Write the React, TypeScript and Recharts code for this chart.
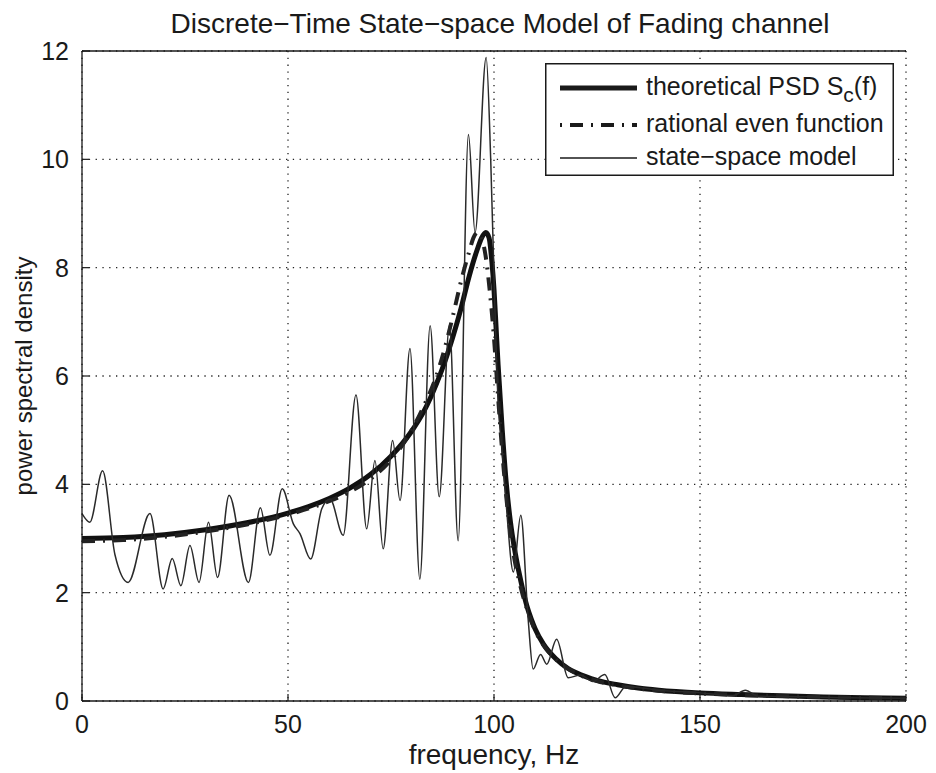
import React from 'react';
import { LineChart, Line, XAxis, YAxis, CartesianGrid, Legend } from 'recharts';

const TITLE = 'Discrete\u2212Time State\u2212space Model of Fading channel';
const X_LABEL = 'frequency, Hz';
const Y_LABEL = 'power spectral density';
const FREQ_TICKS = [0, 50, 100, 150, 200];
const PSD_TICKS = [0, 2, 4, 6, 8, 10, 12];

const theoreticalFreq = [0, 10, 20, 30, 40, 50, 55, 60, 65, 70, 75, 80, 83, 86, 88, 90, 92, 94, 96, 97, 98, 98.8, 99.5, 100, 100.5, 101, 102, 103, 104, 105, 106, 107, 108, 109, 110, 112, 115, 118, 120, 125, 130, 135, 140, 150, 160, 170, 180, 190, 200];
const theoreticalPsd = [3.0, 3.02, 3.07, 3.16, 3.29, 3.47, 3.59, 3.74, 3.93, 4.18, 4.52, 4.98, 5.35, 5.85, 6.25, 6.72, 7.25, 7.85, 8.35, 8.55, 8.65, 8.55, 8.1, 7.6, 6.9, 6.2, 5.0, 4.0, 3.3, 2.8, 2.4, 2.05, 1.75, 1.52, 1.33, 1.05, 0.78, 0.6, 0.52, 0.38, 0.3, 0.24, 0.2, 0.15, 0.12, 0.095, 0.075, 0.06, 0.05];

const rationalFreq = [0, 10, 20, 30, 40, 50, 60, 65, 70, 75, 80, 83, 86, 88, 90, 92, 94, 95, 96, 97, 98, 99, 100, 101, 102, 103, 104, 105, 106, 107, 108, 110, 112, 115, 120, 125, 130, 140, 150, 170, 200];
const rationalPsd = [2.95, 2.97, 3.03, 3.13, 3.26, 3.44, 3.69, 3.86, 4.1, 4.45, 5.0, 5.45, 6.0, 6.5, 7.1, 7.75, 8.3, 8.55, 8.65, 8.55, 8.2, 7.55, 6.7, 5.6, 4.6, 3.75, 3.1, 2.6, 2.25, 1.95, 1.7, 1.3, 1.03, 0.77, 0.51, 0.37, 0.29, 0.19, 0.14, 0.09, 0.05];

const stateSpaceFreq = [0, 1.9, 5.0, 8.0, 11.2, 16.5, 19.7, 21.9, 24.0, 26.2, 28.4, 30.7, 32.9, 35.7, 40.4, 43.3, 45.6, 48.6, 51.3, 52.9, 55.5, 58.2, 60.2, 63.4, 66.5, 69.1, 71.1, 73.1, 75.4, 77.2, 79.6, 82.0, 84.5, 86.7, 89.2, 91.3, 93.8, 95.4, 98.1, 99.2, 100.2, 101.0, 101.9, 103.0, 104.7, 106.5, 108.3, 109.5, 111.3, 112.8, 115.2, 118, 121, 124, 126.9, 129.4, 132, 140, 150, 158, 161, 164, 175, 185, 200];
const stateSpacePsd = [3.46, 3.3, 4.25, 2.7, 2.19, 3.46, 2.07, 2.63, 2.13, 2.87, 2.19, 3.3, 2.28, 3.8, 2.19, 3.57, 2.69, 3.92, 3.27, 3.09, 2.62, 3.55, 3.73, 3.06, 5.65, 3.18, 4.44, 2.81, 4.81, 3.7, 6.51, 2.25, 6.93, 3.77, 6.94, 2.96, 10.46, 8.65, 11.88, 10.0, 7.3, 5.5, 4.7, 3.6, 2.38, 3.43, 1.5, 0.59, 0.86, 0.68, 1.14, 0.43, 0.48, 0.36, 0.49, 0.06, 0.27, 0.2, 0.15, 0.1, 0.2, 0.09, 0.08, 0.06, 0.05];

const LEGEND_LABELS = ['theoretical PSD S', 'rational even function', 'state\u2212space model'];

const zip = (f: number[], p: number[]) => f.map((x, i) => ({ f: x, psd: p[i] }));
const theoreticalData = zip(theoreticalFreq, theoreticalPsd);
const rationalData = zip(rationalFreq, rationalPsd);
const stateSpaceData = zip(stateSpaceFreq, stateSpacePsd);

const FONT = '"Liberation Sans", Arial, Helvetica, sans-serif';
const INK = '#1a1a1a';
const TICK_FS = 25;
const TICK_LEN = 7;

const BottomTick = (props: any) => {
  const { x, y, payload } = props;
  return (
    <g>
      <line x1={x} y1={y} x2={x} y2={y - TICK_LEN} stroke={INK} strokeWidth={1.2} />
      <text x={x} y={y + 32} textAnchor="middle" fontFamily={FONT} fontSize={TICK_FS} fill={INK}>
        {payload.value}
      </text>
    </g>
  );
};
const TopTick = (props: any) => {
  const { x, y } = props;
  return <line x1={x} y1={y} x2={x} y2={y + TICK_LEN} stroke={INK} strokeWidth={1.2} />;
};
const LeftTick = (props: any) => {
  const { x, y, payload } = props;
  return (
    <g>
      <line x1={x} y1={y} x2={x + TICK_LEN} y2={y} stroke={INK} strokeWidth={1.2} />
      <text x={x - 13} y={y + 9} textAnchor="end" fontFamily={FONT} fontSize={TICK_FS} fill={INK}>
        {payload.value}
      </text>
    </g>
  );
};
const RightTick = (props: any) => {
  const { x, y } = props;
  return <line x1={x} y1={y} x2={x - TICK_LEN} y2={y} stroke={INK} strokeWidth={1.2} />;
};

const TitleLabel = (props: any) => {
  const { viewBox } = props;
  const cx = viewBox.x + viewBox.width / 2 + 6;
  return (
    <text x={cx} y={viewBox.y + 25} textAnchor="middle" fontFamily={FONT} fontSize={28} fill={INK}>
      {TITLE}
    </text>
  );
};
const XLabel = (props: any) => {
  const { viewBox } = props;
  const cx = viewBox.x + viewBox.width / 2;
  return (
    <text x={cx} y={viewBox.y + 63} textAnchor="middle" fontFamily={FONT} fontSize={28} fill={INK}>
      {X_LABEL}
    </text>
  );
};
const YLabel = (props: any) => {
  const { viewBox } = props;
  const cx = viewBox.x + 24;
  const cy = viewBox.y + viewBox.height / 2;
  return (
    <text x={cx} y={cy} transform={`rotate(-90 ${cx} ${cy})`} textAnchor="middle" fontFamily={FONT} fontSize={24} fill={INK}>
      {Y_LABEL}
    </text>
  );
};

const LegendBox = () => {
  const rows = [25, 62, 95];
  return (
    <svg width={349} height={113} style={{ display: 'block' }}>
      <rect x={0.75} y={0.75} width={347.5} height={111.5} fill="#fff" stroke={INK} strokeWidth={1.5} />
      <line x1={15} x2={92} y1={rows[0]} y2={rows[0]} stroke={INK} strokeWidth={5} />
      <line x1={15} x2={92} y1={rows[1]} y2={rows[1]} stroke={INK} strokeWidth={4} strokeDasharray="2 8 13 8" />
      <line x1={15} x2={92} y1={rows[2]} y2={rows[2]} stroke={INK} strokeWidth={1.5} />
      <text x={101} y={rows[0] + 6.5} fontFamily={FONT} fontSize={25} fill={INK}>
        {LEGEND_LABELS[0]}
        <tspan dy={7} fontSize={21}>c</tspan>
        <tspan dy={-7}>(f)</tspan>
      </text>
      <text x={101} y={rows[1] + 7} fontFamily={FONT} fontSize={25} fill={INK}>{LEGEND_LABELS[1]}</text>
      <text x={101} y={rows[2] + 7} fontFamily={FONT} fontSize={25} fill={INK}>{LEGEND_LABELS[2]}</text>
    </svg>
  );
};

export default function App() {
  return (
    <div style={{ width: 920, height: 765, background: '#fff' }}>
      <LineChart width={920} height={765} margin={{ top: 0, right: 22, left: 0, bottom: 8 }}>
        <CartesianGrid stroke="#222" strokeWidth={1.3} strokeDasharray="1.3 5.5" />
        <XAxis
          dataKey="f"
          type="number"
          domain={[0, 200]}
          ticks={FREQ_TICKS}
          interval={0}
          height={64}
          tickSize={0}
          tickMargin={0}
          tick={<BottomTick />}
          axisLine={{ stroke: INK, strokeWidth: 1.3 }}
          allowDataOverflow
          label={<XLabel />}
        />
        <XAxis
          xAxisId="top"
          orientation="top"
          dataKey="f"
          type="number"
          domain={[0, 200]}
          ticks={FREQ_TICKS}
          interval={0}
          height={43}
          tickSize={0}
          tickMargin={0}
          tick={<TopTick />}
          axisLine={{ stroke: INK, strokeWidth: 1.3 }}
          label={<TitleLabel />}
        />
        <YAxis
          type="number"
          domain={[0, 12]}
          ticks={PSD_TICKS}
          interval={0}
          width={74}
          tickSize={0}
          tickMargin={0}
          tick={<LeftTick />}
          axisLine={{ stroke: INK, strokeWidth: 1.3 }}
          allowDataOverflow
          label={<YLabel />}
        />
        <YAxis
          yAxisId="right"
          orientation="right"
          type="number"
          domain={[0, 12]}
          ticks={PSD_TICKS}
          interval={0}
          width={0}
          tickSize={0}
          tickMargin={0}
          tick={<RightTick />}
          axisLine={{ stroke: INK, strokeWidth: 1.3 }}
        />
        <Line data={theoreticalData} dataKey="psd" type="monotone" stroke="#111" strokeWidth={5} dot={false} isAnimationActive={false} strokeLinejoin="round" />
        <Line data={rationalData} dataKey="psd" type="monotone" stroke="#222" strokeWidth={4} strokeDasharray="13 8 2 8" dot={false} isAnimationActive={false} />
        <Line data={stateSpaceData} dataKey="psd" type="monotone" stroke="#2a2a2a" strokeWidth={1.5} dot={false} isAnimationActive={false} strokeLinejoin="round" />
        <Legend
          layout="vertical"
          align="center"
          verticalAlign="middle"
          wrapperStyle={{ left: 537, top: 55, width: 349, height: 113 }}
          content={<LegendBox />}
        />
      </LineChart>
    </div>
  );
}
